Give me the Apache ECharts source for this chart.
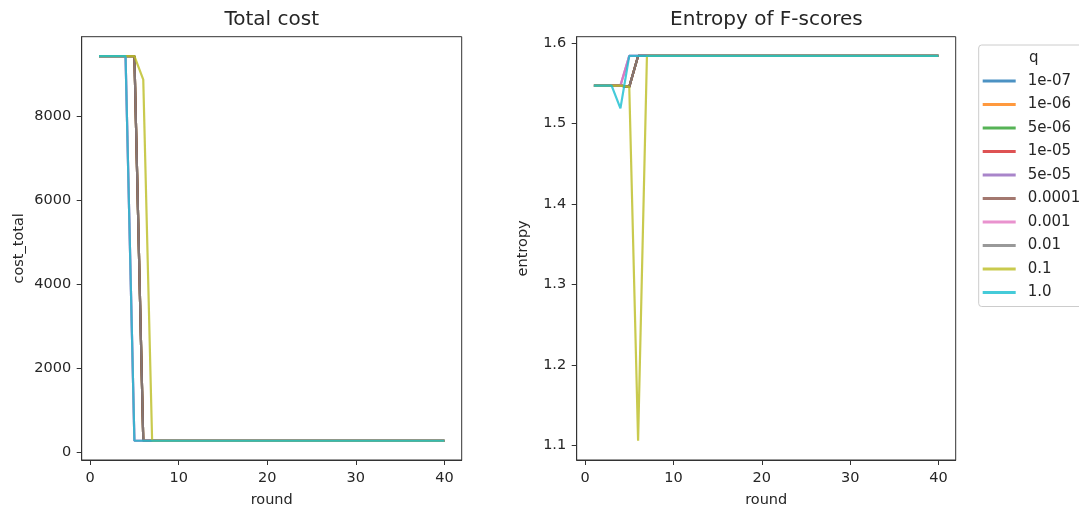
<!DOCTYPE html>
<html>
<head>
<meta charset="utf-8">
<script src="https://cdn.jsdelivr.net/npm/echarts@6/dist/echarts.min.js"></script>
<style>
  html, body { margin: 0; padding: 0; background: #fff; }
  #chart { width: 1079px; height: 513px; }
</style>
</head>
<body>
<div id="chart"></div>
<script>
// Rounds 1..40
const rounds = [1,2,3,4,5,6,7,8,9,10,11,12,13,14,15,16,17,18,19,20,
                21,22,23,24,25,26,27,28,29,30,31,32,33,34,35,36,37,38,39,40];

// q values (legend labels)
const qLabels = ['1e-07','1e-06','5e-06','1e-05','5e-05','0.0001','0.001','0.01','0.1','1.0'];

// Total cost profiles
const costDropRound6 = [9430,9430,9430,9430,9430,276,276,276,276,276,276,276,276,276,276,276,276,276,276,276,
                        276,276,276,276,276,276,276,276,276,276,276,276,276,276,276,276,276,276,276,276];
const costDropRound5 = [9430,9430,9430,9430,276,276,276,276,276,276,276,276,276,276,276,276,276,276,276,276,
                        276,276,276,276,276,276,276,276,276,276,276,276,276,276,276,276,276,276,276,276];
const costDropRound7 = [9430,9430,9430,9430,9430,8870,276,276,276,276,276,276,276,276,276,276,276,276,276,276,
                        276,276,276,276,276,276,276,276,276,276,276,276,276,276,276,276,276,276,276,276];

// Entropy profiles
const entRise6 = [1.5473,1.5473,1.5473,1.5473,1.5457,1.5842,1.5842,1.5842,1.5842,1.5842,1.5842,1.5842,1.5842,1.5842,1.5842,1.5842,1.5842,1.5842,1.5842,1.5842,
                  1.5842,1.5842,1.5842,1.5842,1.5842,1.5842,1.5842,1.5842,1.5842,1.5842,1.5842,1.5842,1.5842,1.5842,1.5842,1.5842,1.5842,1.5842,1.5842,1.5842];
const entRise5 = [1.5473,1.5473,1.5473,1.5473,1.5842,1.5842,1.5842,1.5842,1.5842,1.5842,1.5842,1.5842,1.5842,1.5842,1.5842,1.5842,1.5842,1.5842,1.5842,1.5842,
                  1.5842,1.5842,1.5842,1.5842,1.5842,1.5842,1.5842,1.5842,1.5842,1.5842,1.5842,1.5842,1.5842,1.5842,1.5842,1.5842,1.5842,1.5842,1.5842,1.5842];
const entDip4 = [1.5473,1.5473,1.5473,1.5190,1.5842,1.5842,1.5842,1.5842,1.5842,1.5842,1.5842,1.5842,1.5842,1.5842,1.5842,1.5842,1.5842,1.5842,1.5842,1.5842,
                 1.5842,1.5842,1.5842,1.5842,1.5842,1.5842,1.5842,1.5842,1.5842,1.5842,1.5842,1.5842,1.5842,1.5842,1.5842,1.5842,1.5842,1.5842,1.5842,1.5842];
const entDip6 = [1.5473,1.5473,1.5473,1.5473,1.5457,1.1061,1.5842,1.5842,1.5842,1.5842,1.5842,1.5842,1.5842,1.5842,1.5842,1.5842,1.5842,1.5842,1.5842,1.5842,
                 1.5842,1.5842,1.5842,1.5842,1.5842,1.5842,1.5842,1.5842,1.5842,1.5842,1.5842,1.5842,1.5842,1.5842,1.5842,1.5842,1.5842,1.5842,1.5842,1.5842];

// Which profile each q follows
const costByQ = [costDropRound6, costDropRound6, costDropRound6, costDropRound6, costDropRound5,
                 costDropRound6, costDropRound5, costDropRound6, costDropRound7, costDropRound5];
const entropyByQ = [entRise6, entRise6, entRise6, entRise6, entRise5,
                    entRise6, entRise5, entRise6, entDip6, entDip4];

// Tick values
const xTicks = [0, 10, 20, 30, 40];
const costTicks = [0, 2000, 4000, 6000, 8000];
const entropyTicks = [1.1, 1.2, 1.3, 1.4, 1.5, 1.6];

const palette = ['#1f77b4','#ff7f0e','#2ca02c','#d62728','#9467bd',
                 '#8c564b','#e377c2','#7f7f7f','#bcbd22','#17becf'];

const FONT = 'DejaVu Sans';
const INK = '#262626';
const tickFont = 14.5;

function xAxisFor(gridIndex) {
  return {
    type: 'value', gridIndex: gridIndex, min: -0.95, max: 41.95,
    name: 'round', nameLocation: 'middle', nameGap: 33,
    nameTextStyle: { fontFamily: FONT, fontSize: tickFont, color: INK },
    axisLine: { show: true, onZero: false, lineStyle: { color: '#333', width: 1 } },
    axisTick: { show: true, length: 5, customValues: xTicks, lineStyle: { color: '#333' } },
    axisLabel: { customValues: xTicks, margin: 11, fontFamily: FONT, fontSize: tickFont, color: INK },
    splitLine: { show: false }
  };
}

function yAxisFor(gridIndex, name, min, max, ticks, gap, fmt) {
  return {
    type: 'value', gridIndex: gridIndex, min: min, max: max,
    name: name, nameLocation: 'middle', nameGap: gap,
    nameTextStyle: { fontFamily: FONT, fontSize: tickFont, color: INK },
    axisLine: { show: true, onZero: false, lineStyle: { color: '#333', width: 1 } },
    axisTick: { show: true, length: 5, customValues: ticks, lineStyle: { color: '#333' } },
    axisLabel: { customValues: ticks, margin: 10.5, fontFamily: FONT, fontSize: tickFont, color: INK,
                 formatter: fmt },
    splitLine: { show: false }
  };
}

const series = [];
qLabels.forEach(function (q, i) {
  series.push({
    name: q, type: 'line', xAxisIndex: 0, yAxisIndex: 0,
    data: rounds.map(function (r, k) { return [r, costByQ[i][k]]; }),
    showSymbol: false, symbol: 'none', animation: false,
    lineStyle: { width: 2.2, color: palette[i], opacity: 0.8 },
    itemStyle: { color: palette[i], opacity: 0.8 }
  });
});
qLabels.forEach(function (q, i) {
  series.push({
    name: q, type: 'line', xAxisIndex: 1, yAxisIndex: 1,
    data: rounds.map(function (r, k) { return [r, entropyByQ[i][k]]; }),
    showSymbol: false, symbol: 'none', animation: false,
    lineStyle: { width: 2.2, color: palette[i], opacity: 0.8 },
    itemStyle: { color: palette[i], opacity: 0.8 }
  });
});

const chart = echarts.init(document.getElementById('chart'), null, { renderer: 'canvas' });
chart.setOption({
  animation: false,
  backgroundColor: '#fff',
  color: palette,
  title: [
    { text: 'Total cost', left: 271.7, top: 10, textAlign: 'center', padding: 0,
      textStyle: { fontFamily: FONT, fontSize: 20, fontWeight: 'normal', color: INK } },
    { text: 'Entropy of F-scores', left: 766.4, top: 10, textAlign: 'center', padding: 0,
      textStyle: { fontFamily: FONT, fontSize: 20, fontWeight: 'normal', color: INK } }
  ],
  grid: [
    { left: 81.7, top: 36.7, width: 380, height: 426, show: true, borderColor: '#333', borderWidth: 1, backgroundColor: 'transparent' },
    { left: 576.7, top: 36.7, width: 379, height: 426, show: true, borderColor: '#333', borderWidth: 1, backgroundColor: 'transparent' }
  ],
  xAxis: [xAxisFor(0), xAxisFor(1)],
  yAxis: [
    yAxisFor(0, 'cost_total', -182, 9891, costTicks, 55, function (v) { return String(v); }),
    yAxisFor(1, 'entropy', 1.0822, 1.6081, entropyTicks, 46, function (v) { return v.toFixed(1); })
  ],
  legend: {
    orient: 'vertical', left: 978.7, top: 45,
    padding: [28, 8, 6, 4],
    itemWidth: 33, itemHeight: 3, itemGap: 7.5,
    icon: 'rect',
    data: qLabels,
    borderColor: '#ccc', borderWidth: 1, borderRadius: 3,
    backgroundColor: 'rgba(255,255,255,0.8)',
    textStyle: { fontFamily: FONT, fontSize: 15, color: INK, lineHeight: 16, padding: [0, 0, 0, 7] },
    itemStyle: { opacity: 0.8 },
    selectedMode: false
  },
  graphic: [
    { type: 'text', left: 1029, top: 51, z: 200, zlevel: 0,
      style: { text: 'q', font: '15px "' + FONT + '"', fill: INK } }
  ],
  series: series
});
</script>
</body>
</html>
